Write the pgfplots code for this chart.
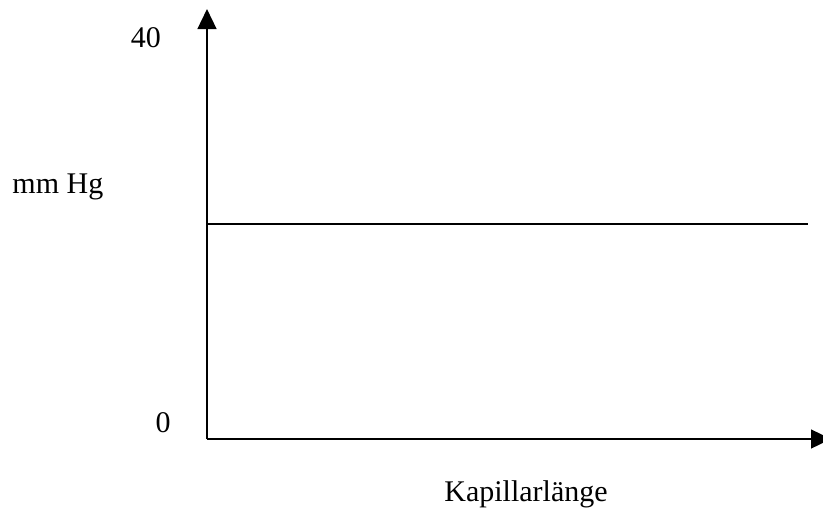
\documentclass[border=0pt]{standalone}
\usepackage{fontspec}
\setmainfont{Liberation Serif}
\usepackage{pgfplots}
\pgfplotsset{compat=1.18}
\usetikzlibrary{arrows.meta}
\begin{document}
\fontsize{12}{14}\selectfont
\begin{tikzpicture}
\begin{axis}[
  scale only axis, width=249.6pt, height=172pt,
  at={(0pt,0pt)}, anchor=south west,
  xmin=0, xmax=100, ymin=0, ymax=43,
  axis lines=left,
  axis line style={line width=0.9pt, -{Triangle[length=8pt,width=7.5pt]}},
  xtick=\empty, ytick=\empty,
  clip=false,
  xlabel={Kapillarlänge}, ylabel={mm Hg},
  every axis x label/.style={at={(127.6pt,0pt)}, anchor=base, yshift=-25.1pt, inner sep=0pt},
  every axis y label/.style={at={(rel axis cs:0,0)}, anchor=base west, xshift=-78pt, yshift=98.4pt, inner sep=0pt},
]
\addplot[black, line width=0.8pt] coordinates {(0,21.5) (96.3,21.5)};
\end{axis}
\node[anchor=base, inner sep=0pt] at (-24.4pt,156.4pt) {40};
\node[anchor=base, inner sep=0pt] at (-17.6pt,2.8pt) {0};
\pgfresetboundingbox
\useasboundingbox (-82.8pt,-28.4pt) rectangle (246.4pt,175.6pt);
\end{tikzpicture}
\end{document}
